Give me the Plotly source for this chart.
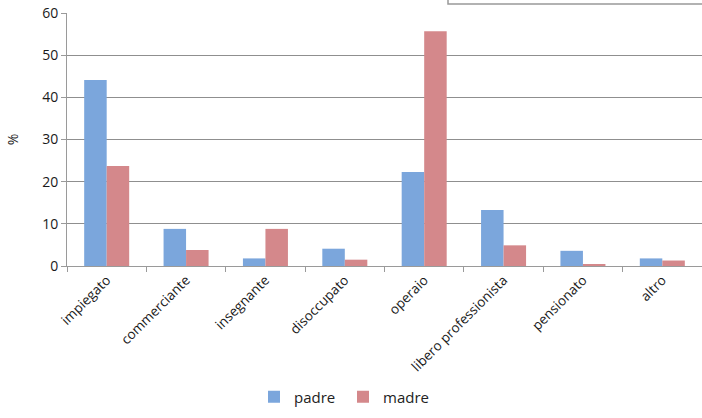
import plotly.graph_objects as go

categories = ["impiegato", "commerciante", "insegnante", "disoccupato", "operaio",
              "libero professionista", "pensionato", "altro"]
padre = [44.1, 8.8, 1.8, 4.1, 22.3, 13.3, 3.6, 1.8]
madre = [23.7, 3.8, 8.8, 1.5, 55.7, 4.9, 0.4, 1.3]

W, H = 702, 418
L, R, T, B = 67, 0, 13, 152
pw, ph = W - L - R, H - T - B

def px_x(x):
    return (x - L) / pw

def px_y(y):
    return (H - B - y) / ph

fig = go.Figure()
fig.add_trace(go.Bar(x=categories, y=padre, name="padre", marker_color="#7ba6dc",
                     marker_line_width=0))
fig.add_trace(go.Bar(x=categories, y=madre, name="madre", marker_color="#d4888b",
                     marker_line_width=0))

font = "Open Sans, Liberation Sans, sans-serif"
fig.update_layout(
    width=W, height=H,
    margin=dict(l=L, r=R, t=T, b=B),
    paper_bgcolor="white", plot_bgcolor="white",
    barmode="group", bargap=0.433, bargroupgap=0,
    font=dict(family=font, color="#333333"),
    showlegend=True,
    legend=dict(orientation="h", x=px_x(343), y=px_y(397), xanchor="center", yanchor="middle",
                font=dict(size=15, color="#222222"), itemwidth=30, tracegroupgap=0,
                entrywidth=44, entrywidthmode="pixels"),
    shapes=[dict(type="rect", xref="paper", yref="paper",
                 x0=px_x(448), x1=px_x(712), y0=px_y(4), y1=px_y(-10),
                 line=dict(color="#999999", width=1.5), fillcolor="rgba(0,0,0,0)")],
)
fig.update_xaxes(
    tickangle=-45, tickfont=dict(size=13.5, color="#1a1a1a"),
    showline=True, linecolor="#9a9a9a", linewidth=1,
    ticks="outside", tickson="boundaries", ticklen=5, tickcolor="#9a9a9a",
    showgrid=False,
)
fig.update_yaxes(
    range=[0, 60], dtick=10, tickfont=dict(size=14, color="#1a1a1a"),
    showline=True, linecolor="#9a9a9a", linewidth=1,
    ticks="outside", ticklen=5, tickcolor="#9a9a9a",
    showgrid=True, gridcolor="#8f8f8f", gridwidth=1,
    zeroline=False,
    title=dict(text="%", font=dict(size=14, color="#1a1a1a"), standoff=20),
)

fig.write_html("out.html")
